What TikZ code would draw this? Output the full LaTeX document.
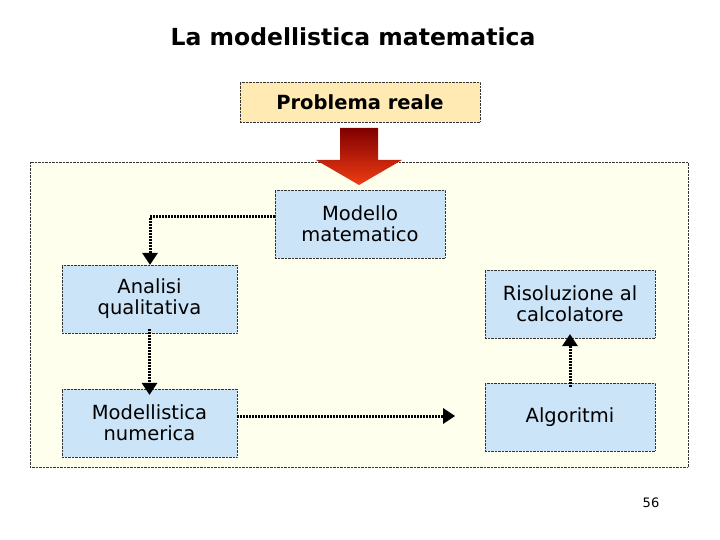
\documentclass[tikz,border=0pt]{standalone}
\usepackage{fontspec}
\setmainfont{DejaVu Sans}
\usetikzlibrary{arrows.meta}
\definecolor{boxblue}{RGB}{204,228,247}
\definecolor{boxyel}{RGB}{255,234,180}
\definecolor{frameyel}{RGB}{255,255,238}
\tikzset{
  bluebox/.style={draw=black!80, densely dotted, fill=boxblue, minimum width=#1, align=center, inner sep=0pt, font=\fontsize{19.5}{21}\selectfont},
  conn/.style={draw=black, line width=3pt, dash pattern=on 1.5pt off 1.5pt, -{Triangle[length=12pt,width=16pt,line width=0pt]}},
}
\begin{document}
\begin{tikzpicture}[x=1pt,y=-1pt]
\useasboundingbox (0,0) rectangle (720,540);
\node (title) at (353,37) {\fontsize{23.5}{28}\selectfont\bfseries La modellistica matematica};
\draw[black!80, densely dotted, fill=frameyel] (30,162) rectangle (688,467);
\node[draw=black!80, densely dotted, fill=boxyel, minimum width=240pt, minimum height=40pt, font=\fontsize{19.5}{23}\selectfont\bfseries] (pr) at (360,102) {Problema reale};
\shade[top color=red!50!black, bottom color={rgb,255:red,240;green,60;blue,20}]
  (340,128) -- (378,128) -- (378,160) -- (402,160) -- (359,185) -- (316,160) -- (340,160) -- cycle;
\node[bluebox=170pt, minimum height=68pt] (mm) at (360,224) {Modello\\matematico};
\node[bluebox=175pt, minimum height=68pt] (aq) at (149.5,299) {Analisi\\qualitativa};
\node[bluebox=170pt, minimum height=68pt] (rc) at (570,304) {Risoluzione al\\calcolatore};
\node[bluebox=175pt, minimum height=68pt] (mn) at (149.5,423) {Modellistica\\numerica};
\node[bluebox=170pt, minimum height=68pt] (al) at (570,417) {Algoritmi};
\coordinate (c1) at (150,217);
\coordinate (e3) at (455,416);
\path[conn] (mm.west |- c1) -- (c1) -- (aq.north -| c1);
\path[conn] ([yshift=4pt]aq.south) -- ([yshift=-6pt]mn.north);
\path[conn] (mn.east |- e3) -- (e3);
\path[conn] ([yshift=-4pt]al.north) -- ([yshift=4pt]rc.south);
\node (pg) at (651,503) {\fontsize{13}{15}\selectfont 56};
\end{tikzpicture}
\end{document}
